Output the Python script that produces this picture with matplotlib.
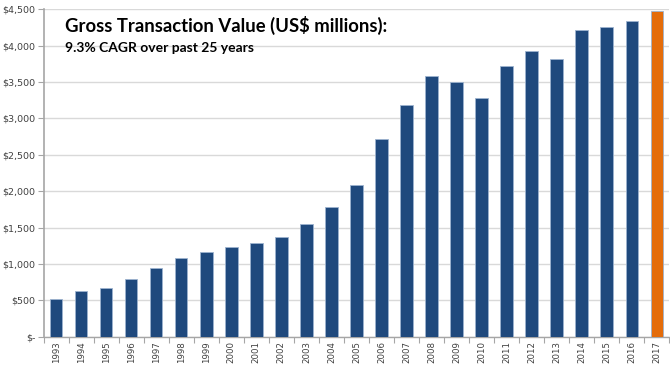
import numpy as np
import matplotlib
matplotlib.use('agg')
import matplotlib.pyplot as plt
from matplotlib.ticker import FuncFormatter

## Data (US$ millions)
years = [str(y) for y in range(1993, 2018)]
gtv = [527, 630, 665, 800, 948, 1085, 1168, 1232, 1291, 1369, 1552, 1786, 2090,
       2720, 3185, 3575, 3500, 3280, 3720, 3920, 3815, 4215, 4250, 4335, 4475]
highlight_year = '2017'
title = 'Gross Transaction Value (US$ millions):'
subtitle = '9.3% CAGR over past 25 years'

blue = '#1F497D'
orange = '#E46C0A'

fig = plt.figure(figsize=(6.7, 3.65), dpi=100)
ax = fig.add_axes([0.065, 0.077, 0.934, 0.898])

x = np.arange(len(years))
colors = [orange if y == highlight_year else blue for y in years]
ax.bar(x, gtv, width=0.5, color=colors, edgecolor='#9DB3CF', linewidth=0.6, zorder=3)

ax.set_xlim(-0.5, len(years) - 0.5)
ax.set_ylim(0, 4500)
ax.set_yticks(np.arange(0, 4501, 500))

def money(v, pos):
    return '$-' if v == 0 else '${:,.0f}'.format(v)

ax.yaxis.set_major_formatter(FuncFormatter(money))
ax.yaxis.grid(True, color='#D9D9D9', linewidth=1.0, zorder=0)

ax.set_xticks(x)
ax.set_xticklabels(years, rotation=90)
ax.set_xticks(np.arange(-0.5, len(years)), minor=True)
ax.tick_params(axis='x', which='major', length=0, labelsize=6.2, colors='#404040', pad=3)
ax.tick_params(axis='x', which='minor', length=4, color='#A6A6A6', width=0.8)
ax.tick_params(axis='y', length=4, color='#A6A6A6', width=0.8, labelsize=6.8,
               labelcolor='#404040', pad=2)

for s in ['top', 'right']:
    ax.spines[s].set_visible(False)
ax.spines['left'].set_color('#A6A6A6')
ax.spines['bottom'].set_color('#A6A6A6')
ax.spines['left'].set_linewidth(1.2)
ax.spines['bottom'].set_linewidth(1.0)

fig.text(0.097, 1 - 32 / 365, title, fontsize=13.3, fontweight='bold',
         family='Lato', va='baseline', color='black')
fig.text(0.097, 1 - 52 / 365, subtitle, fontsize=10, fontweight='bold',
         family='Lato', va='baseline', color='black')

plt.savefig('out.png', dpi=100)
